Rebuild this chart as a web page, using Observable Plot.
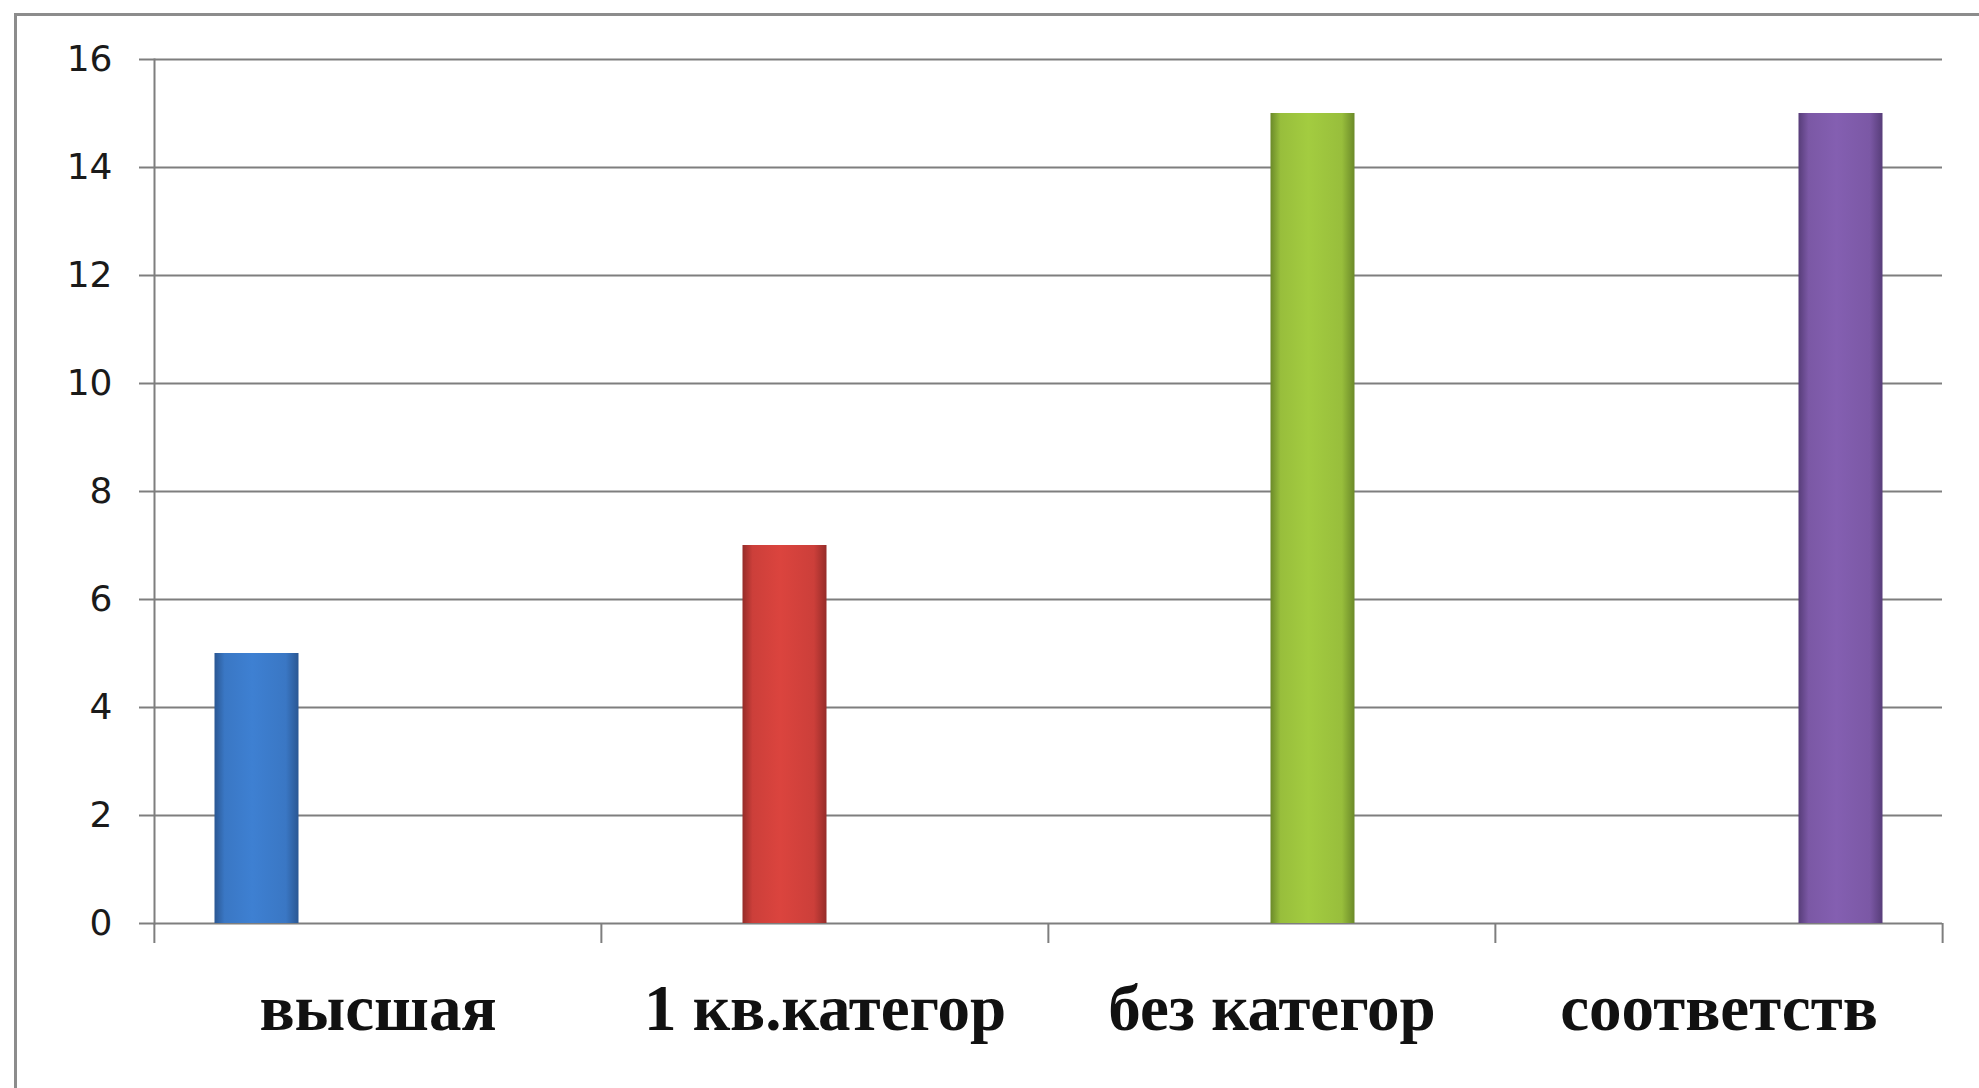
<!DOCTYPE html>
<html>
<head>
<meta charset="utf-8">
<script src="https://cdn.jsdelivr.net/npm/d3@7"></script>
<script src="https://cdn.jsdelivr.net/npm/@observablehq/plot@0.6"></script>
<style>
  html, body { margin: 0; padding: 0; background: #fff; overflow: hidden; }
  #wrap { position: relative; width: 1979px; height: 1088px; }
  #wrap svg { position: absolute; left: 0; top: 0; }
  #border { position: absolute; left: 14px; top: 13px; width: 3000px; height: 3000px;
            border-left: 3px solid #8c8c8c; border-top: 3px solid #8c8c8c; pointer-events: none; }
</style>
</head>
<body>
<div id="wrap"><div id="border"></div></div>
<script>
const categories = ["высшая", "1 кв.категор", "без категор", "соответств"];
const values = [5, 7, 15, 15];
const baseColors = ["#3A77C4", "#CC3F3A", "#98BE3C", "#7B58A5"];
const edgeColors = ["#2A5793", "#962C29", "#6B8A29", "#573D79"];
const yTicks = [0, 2, 4, 6, 8, 10, 12, 14, 16];

const data = categories.map((c, i) => ({category: c, series: c, value: values[i]}));

const W = 1979, H = 1088, mL = 153, mR = 37, mT = 59, mB = 165;
const bw = (W - mL - mR) / categories.length;
const gray = "#7e7e7e";

const chart = Plot.plot({
  width: W, height: H,
  marginLeft: mL, marginRight: mR, marginTop: mT, marginBottom: mB,
  style: {background: "transparent", fontFamily: "DejaVu Sans", color: "#1a1a1a"},
  fx: {domain: categories, padding: 0, axis: null, label: null},
  x: {domain: categories, paddingInner: 0, paddingOuter: 0.75, axis: null},
  y: {domain: [0, 16], axis: null},
  color: {domain: categories, range: categories.map((c, i) => `url(#grad${i})`)},
  marks: [
    Plot.gridY(yTicks, {stroke: gray, strokeOpacity: 1, strokeWidth: 2}),
    Plot.barY(data, {fx: "category", x: "series", y: "value", fill: "series", insetLeft: -1.5, insetRight: -1.5}),
    Plot.frame({anchor: "left", facetAnchor: "left", stroke: gray, strokeWidth: 2}),
    Plot.axisY(yTicks, {tickSize: 15, tickPadding: 27, fontSize: 36, tickFormat: d => String(d), stroke: gray, strokeWidth: 2, fill: "#1a1a1a", label: null}),
    Plot.axisFx({anchor: "bottom", tickSize: 20, dx: -bw / 2, stroke: gray, strokeWidth: 2, tickFormat: () => "", label: null}),
    Plot.axisFx({anchor: "bottom", ticks: [categories[categories.length - 1]], tickSize: 20, dx: bw / 2, stroke: gray, strokeWidth: 2, tickFormat: () => "", label: null}),
    Plot.axisFx({anchor: "bottom", tickSize: 0, tickPadding: 60, fontSize: 65, fontWeight: "bold", fontFamily: "Liberation Serif", fill: "#111", label: null})
  ]
});

const defs = d3.select(chart).insert("defs", ":first-child");
baseColors.forEach((c, i) => {
  const g = defs.append("linearGradient").attr("id", `grad${i}`).attr("x1", 0).attr("x2", 1).attr("y1", 0).attr("y2", 0);
  const light = d3.color(c).brighter(0.2).formatHex();
  [[0, edgeColors[i]], [0.12, c], [0.45, light], [0.85, c], [1, edgeColors[i]]].forEach(([o, col]) =>
    g.append("stop").attr("offset", o).attr("stop-color", col));
});

document.getElementById("wrap").appendChild(chart);
</script>
</body>
</html>
